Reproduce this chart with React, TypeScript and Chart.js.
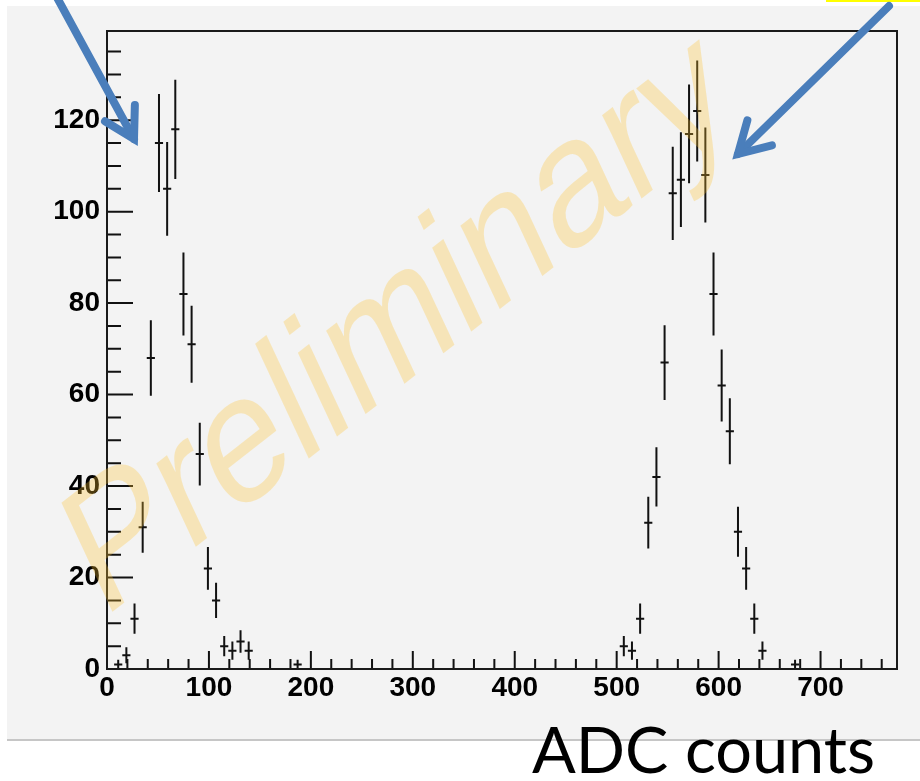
import React, { useEffect, useRef } from 'react';
import { Chart, registerables } from 'chart.js';

Chart.register(...registerables);

// Histogram bins (ADC counts) and entries
const binCenters = [
  11, 19, 27, 35, 43, 51, 59, 67, 75, 83, 91, 99, 107, 115, 123, 131, 139,
  187,
  507, 515, 523, 531, 539, 547, 555, 563, 571, 579, 587, 595, 603, 611, 619, 627, 635, 643,
  675,
];
const counts = [
  1, 3, 11, 31, 68, 115, 105, 118, 82, 71, 47, 22, 15, 5, 4, 6, 4,
  1,
  5, 4, 11, 32, 42, 67, 104, 107, 117, 122, 108, 82, 62, 52, 30, 22, 11, 4,
  1,
];
const binWidth = 8;

const xTickLabels = ['0', '100', '200', '300', '400', '500', '600', '700'];
const yTickLabels = ['0', '20', '40', '60', '80', '100', '120'];
const X_MAX = 775;
const Y_MAX = 139.5;

const W = 920;
const H = 781;

const histPlugin = {
  id: 'rootHist',
  beforeDraw(chart: any) {
    const ctx = chart.ctx as CanvasRenderingContext2D;
    ctx.save();
    ctx.fillStyle = '#ffffff';
    ctx.fillRect(0, 0, W, H);
    ctx.fillStyle = '#f3f3f3';
    ctx.fillRect(7, 6, W - 7, 734);
    ctx.fillStyle = '#c6c6c6';
    ctx.fillRect(7, 739, W - 7, 2);
    ctx.fillStyle = '#ffff00';
    ctx.fillRect(826, 0, W - 826, 2);
    ctx.restore();
  },
  afterDatasetsDraw(chart: any) {
    const ctx = chart.ctx as CanvasRenderingContext2D;
    const xs = chart.scales.x;
    const ys = chart.scales.y;
    const a = chart.chartArea;
    ctx.save();
    // error bars
    ctx.strokeStyle = '#111111';
    ctx.lineWidth = 2;
    ctx.lineCap = 'butt';
    const ds = chart.data.datasets[0].data as { x: number; y: number }[];
    ds.forEach((p) => {
      const err = Math.sqrt(p.y);
      const px = xs.getPixelForValue(p.x);
      const py = ys.getPixelForValue(p.y);
      const x1 = xs.getPixelForValue(p.x - binWidth / 2);
      const x2 = xs.getPixelForValue(p.x + binWidth / 2);
      const yLo = ys.getPixelForValue(Math.max(0, p.y - err));
      const yHi = ys.getPixelForValue(p.y + err);
      ctx.beginPath();
      ctx.moveTo(x1, py);
      ctx.lineTo(x2, py);
      ctx.moveTo(px, yLo);
      ctx.lineTo(px, yHi);
      ctx.stroke();
    });
    // ticks
    ctx.strokeStyle = '#111111';
    ctx.lineWidth = 2;
    ctx.beginPath();
    for (let v = 0; v <= X_MAX; v += 20) {
      const px = xs.getPixelForValue(v);
      const len = v % 100 === 0 ? 18 : 10;
      ctx.moveTo(px, a.bottom);
      ctx.lineTo(px, a.bottom - len);
    }
    for (let v = 0; v <= Y_MAX; v += 5) {
      const py = ys.getPixelForValue(v);
      const len = v % 20 === 0 ? 26 : 14;
      ctx.moveTo(a.left, py);
      ctx.lineTo(a.left + len, py);
    }
    ctx.stroke();
    // frame
    ctx.strokeStyle = '#1a1a1a';
    ctx.lineWidth = 2;
    ctx.strokeRect(a.left, a.top, a.right - a.left, a.bottom - a.top);
    ctx.restore();
  },
  afterDraw(chart: any) {
    const ctx = chart.ctx as CanvasRenderingContext2D;
    // watermark
    ctx.save();
    ctx.setTransform(0.749, -0.585, 0.436, 0.933, 102, 620);
    ctx.font = '170px "Liberation Sans", Arial, sans-serif';
    ctx.fillStyle = 'rgba(255, 196, 50, 0.3)';
    ctx.textAlign = 'left';
    ctx.textBaseline = 'alphabetic';
    ctx.fillText('Preliminary', 0, 0);
    ctx.restore();

    // arrows
    const arrow = (sx: number, sy: number, tx: number, ty: number, wing: number, ang: number) => {
      const dir = Math.atan2(sy - ty, sx - tx);
      ctx.beginPath();
      ctx.moveTo(sx, sy);
      ctx.lineTo(tx, ty);
      ctx.stroke();
      ctx.beginPath();
      ctx.moveTo(tx + wing * Math.cos(dir + ang), ty + wing * Math.sin(dir + ang));
      ctx.lineTo(tx, ty);
      ctx.lineTo(tx + wing * Math.cos(dir - ang), ty + wing * Math.sin(dir - ang));
      ctx.stroke();
    };
    ctx.save();
    ctx.strokeStyle = '#4a7ebb';
    ctx.lineWidth = 8;
    ctx.lineCap = 'round';
    ctx.lineJoin = 'miter';
    arrow(54, -8, 134, 139, 34, Math.PI / 6);
    arrow(889, 6, 738, 154, 35, Math.PI / 6);
    ctx.restore();

    // axis caption
    ctx.save();
    ctx.font = '63px Lato, "Noto Sans", sans-serif';
    ctx.fillStyle = '#000000';
    ctx.textBaseline = 'alphabetic';
    const tw = ctx.measureText('ADC counts').width;
    ctx.translate(532, 773);
    ctx.scale(343 / tw, 1);
    ctx.fillText('ADC counts', 0, 0);
    ctx.restore();
  },
};

export default function App() {
  const ref = useRef<HTMLCanvasElement | null>(null);
  useEffect(() => {
    document.body.style.margin = '0';
    const canvas = ref.current;
    if (!canvas) return;
    const tickFont = { family: '"Liberation Sans", Arial, sans-serif', size: 28, weight: 'bold' as const };
    const chart = new Chart(canvas, {
      type: 'scatter',
      data: {
        datasets: [
          {
            label: 'ADC',
            data: binCenters.map((x, i) => ({ x, y: counts[i] })),
            pointRadius: 0,
            pointHoverRadius: 0,
            showLine: false,
          },
        ],
      },
      options: {
        animation: false,
        responsive: false,
        maintainAspectRatio: false,
        devicePixelRatio: 1,
        events: [],
        layout: { padding: { left: 0, top: 31, right: 23, bottom: 0 } },
        plugins: { legend: { display: false }, tooltip: { enabled: false }, title: { display: false } },
        scales: {
          x: {
            type: 'linear',
            min: 0,
            max: X_MAX,
            grid: { display: false, drawTicks: false },
            border: { display: false },
            afterBuildTicks: (s: any) => {
              s.ticks = xTickLabels.map((l) => ({ value: Number(l) }));
            },
            afterFit: (s: any) => {
              s.height = 112;
            },
            ticks: {
              stepSize: 100,
              autoSkip: false,
              maxRotation: 0,
              padding: 2,
              color: '#000',
              font: tickFont,
              callback: (v: any) => {
                const i = xTickLabels.indexOf(String(v));
                return i >= 0 ? xTickLabels[i] : '';
              },
            },
          },
          y: {
            type: 'linear',
            min: 0,
            max: Y_MAX,
            grid: { display: false, drawTicks: false },
            border: { display: false },
            afterBuildTicks: (s: any) => {
              s.ticks = yTickLabels.map((l) => ({ value: Number(l) }));
            },
            afterFit: (s: any) => {
              s.width = 107;
            },
            ticks: {
              stepSize: 20,
              autoSkip: false,
              padding: 7,
              color: '#000',
              font: tickFont,
              callback: (v: any) => {
                const i = yTickLabels.indexOf(String(v));
                return i >= 0 ? yTickLabels[i] : '';
              },
            },
          },
        },
      },
      plugins: [histPlugin],
    });
    return () => chart.destroy();
  }, []);
  return <canvas ref={ref} width={W} height={H} style={{ display: 'block', width: W, height: H }} />;
}
